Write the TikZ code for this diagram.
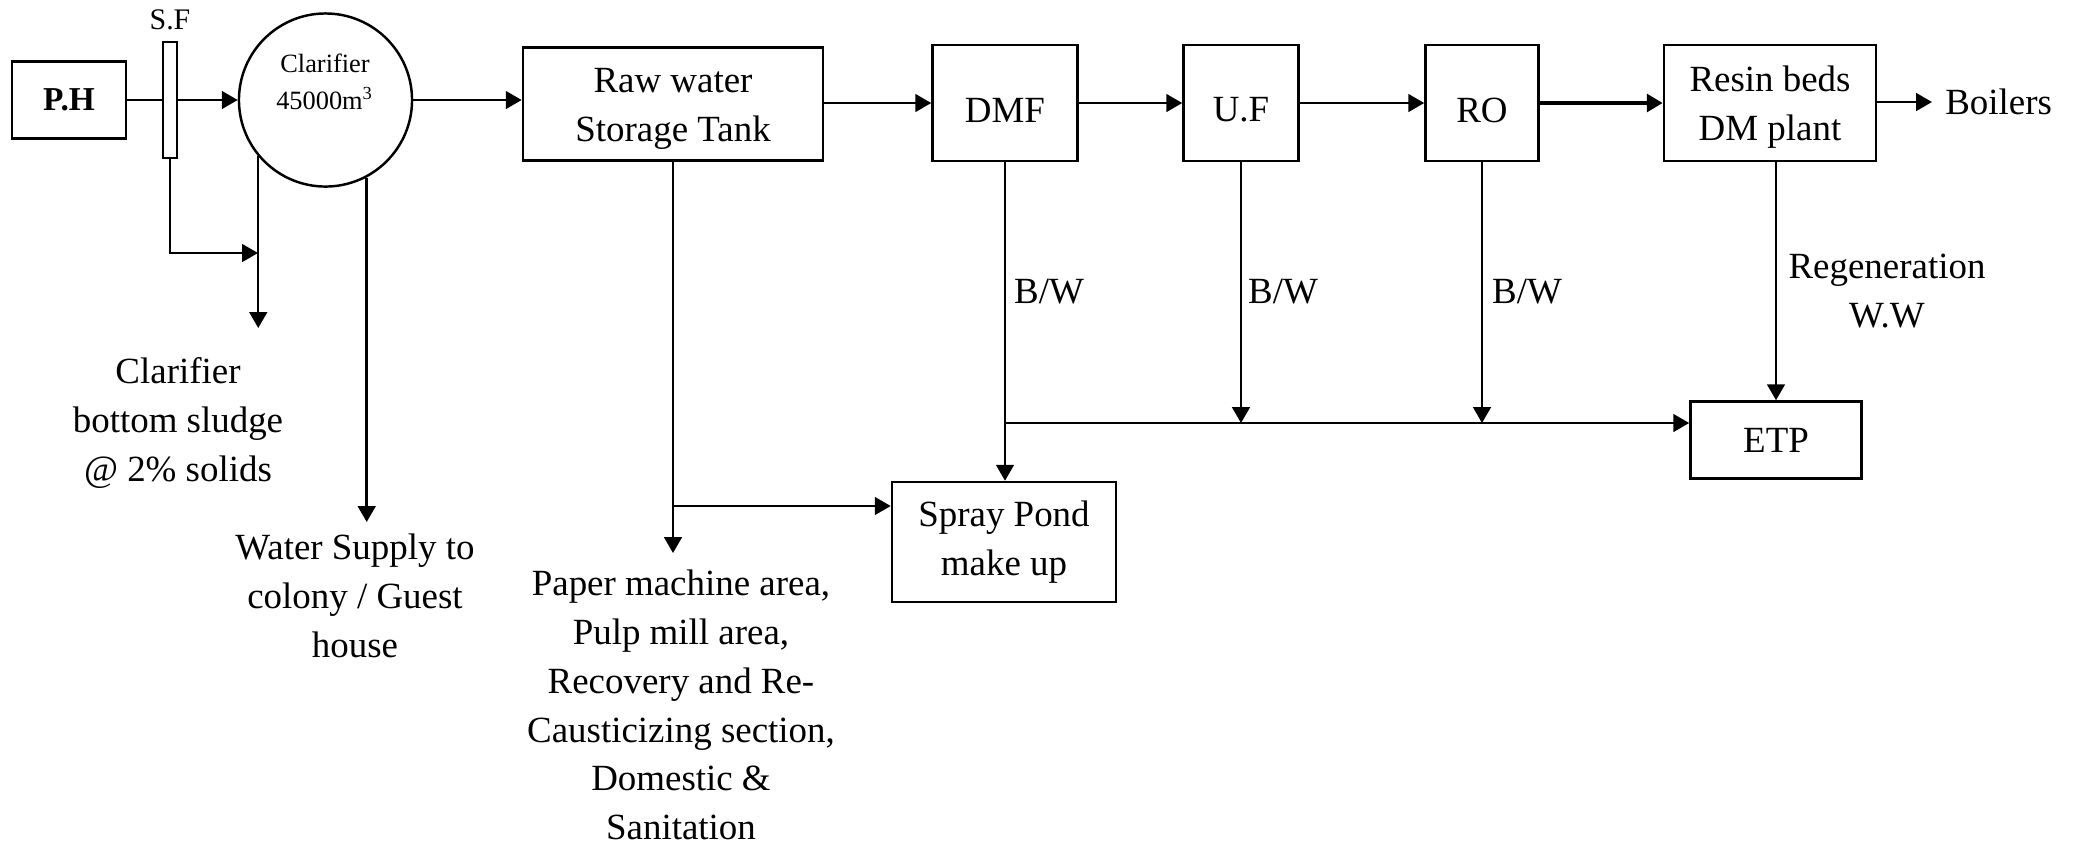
\documentclass[tikz,border=0pt]{standalone}
\usepackage{fontspec}
\setmainfont{Liberation Serif}
\usetikzlibrary{arrows.meta, calc}

\begin{document}
\begin{tikzpicture}[x=0.01cm, y=-0.01cm, line width=0.7pt,
    box/.style={draw, inner sep=0pt, align=center, font=\fontsize{10.5}{13.9}\selectfont},
    txt/.style={align=center, inner sep=0pt, font=\fontsize{10.5}{13.9}\selectfont},
    flow/.style={-{Triangle[length=4.5pt, width=5pt]}}]
    \useasboundingbox (0,0) rectangle (2081,844);

    \node[box, minimum width=1.14cm, minimum height=0.77cm,
        font=\fontsize{9.5}{11}\selectfont\bfseries] (PH) at (69,100) {P.H};
    \node[draw, minimum width=0.14cm, minimum height=1.16cm, inner sep=0pt] (SF) at (170,100) {};
    \node[font=\fontsize{8.5}{10}\selectfont] (SFlbl) at (170,20) {S.F};
    \node[draw, circle, minimum size=1.73cm, inner sep=0pt] (Clar) at (325.5,100) {};
    \node[align=center, inner sep=0pt, font=\fontsize{7.5}{10.5}\selectfont] (Clarlbl) at (325,82)
        {Clarifier\\45000m\textsuperscript{3}};

    \node[box, minimum width=3cm, minimum height=1.13cm] (Raw) at (673,104) {};
    \node[box, minimum width=1.45cm, minimum height=1.16cm] (DMF) at (1005,103) {};
    \node[box, minimum width=1.15cm, minimum height=1.16cm] (UF) at (1241,103) {};
    \node[box, minimum width=1.13cm, minimum height=1.16cm] (RO) at (1482,103) {};
    \node[box, minimum width=2.12cm, minimum height=1.16cm] (Resin) at (1770,103) {};
    \node[txt] (Rawt) at ($(Raw)+(0,5)$) {Raw water\\Storage Tank};
    \node[txt] (DMFt) at ($(DMF)+(0,7)$) {DMF};
    \node[txt] (UFt) at ($(UF)+(0,7)$) {U.F};
    \node[txt] (ROt) at ($(RO)+(0,7)$) {RO};
    \node[txt] (Resint) at ($(Resin)+(0,4)$) {Resin beds\\DM plant};
    \node[txt, anchor=west, inner xsep=0.12cm] (Boil) at (1932,102) {Boilers};
    \node[box, minimum width=1.71cm, minimum height=0.77cm] (ETP) at (1776,440) {ETP};
    \node[box, minimum width=2.24cm, minimum height=1.2cm] (Spray) at (1004,542) {Spray Pond\\make up};

    \node[txt] (sludge) at (178,423) {Clarifier\\bottom sludge\\@ 2\% solids};
    \node[txt] (supply) at (355,596) {Water Supply to\\colony / Guest\\house};
    \node[txt] (areas) at (681,705) {Paper machine area,\\Pulp mill area,\\Recovery and Re-\\Causticizing section,\\Domestic \&\\Sanitation};
    \node[txt, anchor=west] (bwDMF) at (1013,292) {B/W};
    \node[txt, anchor=west] (bwUF) at (1247,292) {B/W};
    \node[txt, anchor=west] (bwRO) at (1491,292) {B/W};
    \node[txt] (regen) at (1887,291) {Regeneration\\W.W};

    \coordinate (sfb) at (258,253);
    \coordinate (sl) at (258,328);
    \coordinate (ws) at (366,522);
    \coordinate (mill) at (673,553);
    \coordinate (br) at (673,506);
    \coordinate (col) at (1005,423);

    \draw (PH.east) -- (SF.west);
    \draw[flow] (SF.east) -- (Clar.west);
    \draw[flow] (SF.south) |- (sfb);
    \draw[flow] (Clar.220) -- (Clar.220 |- sl);
    \draw[flow] (Clar.298) -- (Clar.298 |- ws);
    \draw[flow] (Clar.east) -- (Clar.east -| Raw.west);
    \draw[flow] (Raw.east |- DMF.west) -- (DMF.west);
    \draw[flow] (DMF.east) -- (UF.west);
    \draw[flow] (UF.east) -- (RO.west);
    \draw[flow, line width=1.1pt] (RO.east) -- (Resin.west);
    \draw[flow] (Resin.east |- Boil.west) -- (Boil.west);

    \draw[flow] (Raw.south) -- (mill);
    \draw[flow] (br) -- (br -| Spray.west);
    \draw[flow] (DMF.south) -- (DMF.south |- Spray.north);
    \draw[flow] (col) -- (col -| ETP.west);
    \draw[flow] (UF.south) -- (UF.south |- col);
    \draw[flow] (RO.south) -- (RO.south |- col);
    \draw[flow] (Resin.south -| ETP.north) -- (ETP.north);
\end{tikzpicture}
\end{document}
